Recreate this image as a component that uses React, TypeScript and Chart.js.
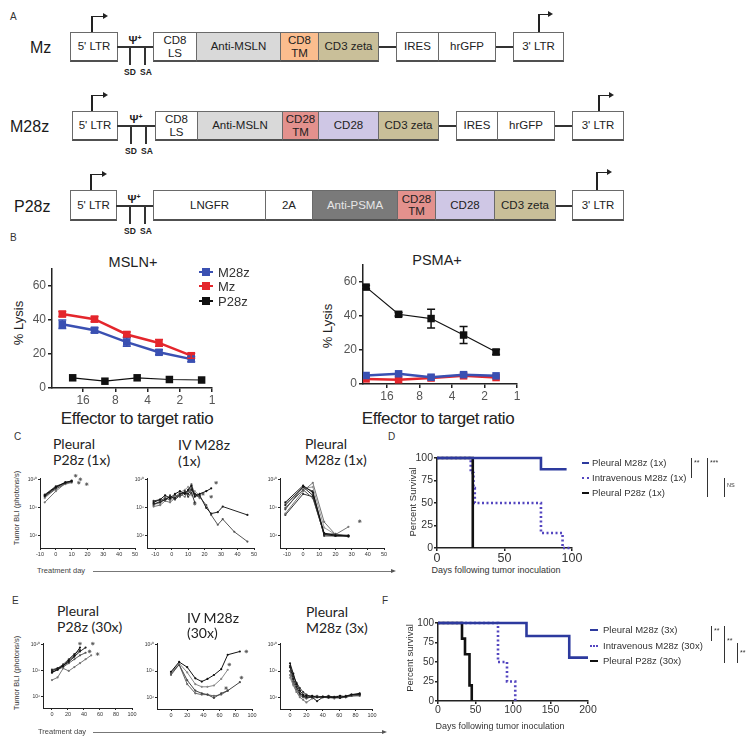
import React, { useEffect, useRef } from "react";
import { Chart, registerables } from "chart.js";
Chart.register(...registerables);

const SANS = '"Liberation Sans", Arial, Helvetica, sans-serif';
const CAL = 'Lato, "Open Sans", sans-serif';
const BLUE = "#3a50b2";
const RED = "#e4262c";
const SBLUE = "#2d3a9e";
const SDOT = "#5446c0";

// ---------------- Panel B data ----------------
const ratioTicks = [16, 8, 4, 2, 1];
const ratiosCAR = [25, 12.5, 6.25, 3.125, 1.5625];
const ratiosP28zMSLN = [20, 10, 5, 2.5, 1.25];
const lysisTicks = [0, 20, 40, 60];
const mslnM28z = [37.5, 34, 27, 21, 17];
const mslnM28zErr = [2.5, 1.5, 2.5, 1.5, 1.5];
const mslnMz = [43.5, 40.5, 31.5, 26.5, 19];
const mslnMzErr = [1.5, 1.5, 1.5, 2, 1.5];
const mslnP28z = [6, 4, 6, 5, 4.7];
const psmaM28z = [5, 6, 4, 5.5, 4.8];
const psmaMz = [3, 2.5, 3.5, 4.8, 3.8];
const psmaP28z = [57, 41, 38.5, 28.8, 18.8];
const psmaP28zErr = [1, 1, 5.5, 5, 1.5];

// ---------------- Panel C data (log10 photons/s) ----------------
const expTicks = [6, 8, 10];
const cDayTicks = [-10, 0, 10, 20, 30, 40, 50];
const c1Days = [-7, 0, 6, 10];
const c1Mouse1 = [8.9, 9.5, 9.8, 9.95];
const c1Mouse2 = [8.85, 9.45, 9.85, 9.9];
const c1Mouse3 = [8.8, 9.35, 9.75, 9.85];
const c1Mouse4 = [8.4, 9.2, 9.75, 9.9];
const c1Mouse5 = [8.95, 9.55, 9.8, null];
const c1Mouse6 = [8.7, 9.4, 9.7, 9.8];
const c1DeathDays = [12.5, 14.5, 15.5, 19.5];
const c1DeathVals = [10.3, 9.8, 10.05, 9.7];

const c2Days = [-11, -7, -4, -1, 2, 5, 8, 10, 12, 14, 17, 21, 24, 28, 31, 38, 46];
const c2Mouse1 = [8.4, 8.6, 8.9, 8.7, 9.0, 9.2, 9.0, 9.3, 9.6, 8.8, 9.0, 9.2, 9.4, null, null, null, null];
const c2Mouse2 = [8.3, 8.4, 8.6, 8.8, 8.7, 9.0, 9.1, 9.0, 9.3, 9.0, 8.9, 8.0, 7.6, 7.7, 8.1, null, 7.5];
const c2Mouse3 = [8.2, 8.5, 8.7, 8.6, 8.9, 8.8, 9.1, 9.2, 9.4, 8.9, 8.8, 8.2, 7.5, 6.8, 7.2, 6.3, 5.6];
const c2Mouse4 = [8.1, 8.2, 8.5, 8.4, 8.7, 9.0, 8.8, 9.2, 9.7, 9.0, 8.7, null, null, null, null, null, null];
const c2Mouse5 = [8.5, 8.6, 8.5, 8.9, 8.6, 8.9, 9.2, 8.8, 9.1, 8.4, null, null, null, null, null, null, null];
const c2Mouse6 = [8.3, 8.3, 8.8, 8.5, 8.8, 9.1, 9.3, 9.5, 8.9, 9.2, 8.9, null, null, null, null, null, null];
const c2DeathDays = [14, 19, 24, 27];
const c2DeathVals = [8.3, 9.0, 8.8, 9.8];

const c3Days = [-11, 0, 6, 13, 20, 28];
const c3Mouse1 = [8.4, 9.6, 9.1, 6.2, 6.05, 6.0];
const c3Mouse2 = [8.2, 9.5, 8.9, 6.1, 6.0, 6.0];
const c3Mouse3 = [8.0, 9.3, 8.7, 6.15, 6.1, 6.05];
const c3Mouse4 = [7.6, 9.2, 9.8, 7.0, 6.1, 6.65];
const c3Mouse5 = [7.5, 9.0, 8.8, 6.1, 6.15, 5.95];
const c3Mouse6 = [8.3, 9.4, 9.5, 6.6, 6.1, null];
const c3Mouse7 = [7.9, 9.5, 9.2, 6.0, 6.0, 6.0];
const c3DeathDays = [35];
const c3DeathVals = [7.05];

// ---------------- Panel E data (log10 photons/s) ----------------
const eDayTicks = [0, 20, 40, 60, 80, 100];
const e1Days = [0, 7, 14, 21, 28, 35, 42, 49];
const e1Mouse1 = [7.9, 8.1, 8.4, 8.8, 9.2, 9.8, null, null];
const e1Mouse2 = [8.0, 8.2, 8.4, 8.7, 9.1, 9.5, 9.8, null];
const e1Mouse3 = [7.85, 8.1, 8.3, 8.6, 8.9, 9.2, 9.4, null];
const e1Mouse4 = [7.3, 7.5, 8.2, 8.0, 8.3, 8.6, 8.9, 9.2];
const e1Mouse5 = [8.1, 8.2, 8.5, 8.9, 9.3, 9.6, null, null];
const e1DeathDays = [35, 51, 47, 57];
const e1DeathVals = [10.1, 10.1, 9.5, 9.3];

const e2Days = [0, 10, 20, 30, 38, 45, 53, 62, 70, 85];
const e2Mouse1 = [7.95, 8.7, 8.3, 7.45, 7.2, 7.4, 7.7, 8.15, 9.25, 9.5];
const e2Mouse2 = [7.9, 8.6, 7.9, 7.0, 6.8, 6.8, 6.9, 7.4, 8.1, null];
const e2Mouse3 = [7.8, 8.5, 7.3, 6.5, 6.3, 6.2, 5.95, 6.3, 6.5, 7.15];
const e2Mouse4 = [7.7, 8.5, 7.0, 6.3, 6.2, 6.2, 6.1, 6.2, 6.5, null];
const e2DeathDays = [93, 72, 87, 68];
const e2DeathVals = [9.5, 8.5, 7.5, 6.7];

const e3Days = [0, 4, 8, 12, 16, 20, 27, 33, 40, 47, 54, 61, 68, 75, 85];
const e3Mouse1 = [8.6, 7.8, 7.0, 6.5, 6.2, 6.1, 6.1, 6.0, 6.05, 6.0, 6.0, 6.1, 6.05, 6.2, 6.3];
const e3Mouse2 = [8.3, 7.4, 6.8, 6.3, 6.1, 6.0, 6.0, 5.7, 6.0, 6.05, 6.0, 5.95, 6.1, 6.2, 6.2];
const e3Mouse3 = [8.0, 7.2, 6.6, 6.2, 6.0, 5.9, 6.05, 6.1, 6.0, 5.95, 6.0, 6.0, 6.0, 6.1, 6.15];
const e3Mouse4 = [7.7, 7.0, 6.4, 6.0, 5.8, 5.6, 5.9, 6.0, 6.05, 6.0, 5.9, 6.0, 6.05, 6.1, 6.1];
const e3Mouse5 = [8.4, 7.6, 7.1, 6.7, 6.4, 6.2, 6.0, 6.0, 6.0, 6.1, 6.0, 5.95, 6.0, 6.15, 6.2];
const e3Mouse6 = [7.5, 6.9, 6.4, 6.1, 6.0, 6.0, 6.1, 6.0, 6.0, 6.0, 6.05, 6.1, 6.0, 6.15, 6.25];

// ---------------- Panel D / F survival data ----------------
const survTicks = [0, 25, 50, 75, 100];
const dDayTicks = [0, 50, 100];
const dPleuralM28zDays = [0, 77, 96];
const dPleuralM28zSurv = [100, 87.5, 87.5];
const dIvM28zDays = [0, 25, 27, 28, 77, 93, 100];
const dIvM28zSurv = [100, 83.3, 66.7, 50, 16.7, 0, 0];
const dPleuralP28zDays = [0, 26.5];
const dPleuralP28zSurv = [100, 0];

const fDayTicks = [0, 50, 100, 150, 200];
const fPleuralM28zDays = [0, 118, 175, 200];
const fPleuralM28zSurv = [100, 83.3, 55.6, 55.6];
const fIvM28zDays = [0, 80, 92, 103];
const fIvM28zSurv = [100, 50, 25, 0];
const fPleuralP28zDays = [0, 32, 36, 42, 45];
const fPleuralP28zSurv = [100, 80, 60, 20, 0];

// ---------------- helpers ----------------
const SUP = "⁰¹²³⁴⁵⁶⁷⁸⁹";
const pow10 = (v: number) => "10" + String(v).split("").map((ch) => SUP[+ch]).join("");
const pts = (xs: number[], ys: (number | null)[]) => xs.map((x, i) => ({ x, y: ys[i] }));

type Box = { l: number; t: number; r: number; b: number };

function axis(o: any) {
  return {
    type: o.type || "linear",
    position: o.horizontal ? "bottom" : "left",
    min: o.min,
    max: o.max,
    reverse: !!o.reverse,
    grid: { display: true, drawOnChartArea: false, drawTicks: true, tickLength: o.tickLen, color: "#222", lineWidth: o.lw || 1 },
    border: { display: true, color: "#222", width: o.lw || 1 },
    ticks: {
      autoSkip: false,
      maxRotation: 0,
      minRotation: 0,
      padding: o.pad,
      font: { family: SANS, size: o.font },
      color: o.color || "#333",
      callback: (v: any) => (o.label ? o.label(Number(v)) : String(v)),
    },
    afterBuildTicks: (s: any) => {
      s.ticks = o.ticks.map((v: number) => ({ value: v }));
    },
    afterFit: (s: any) => {
      if (o.horizontal) s.height = o.fit;
      else s.width = o.fit;
    },
  };
}

const errorBars = {
  id: "errorBars",
  afterDatasetsDraw(chart: any) {
    const ctx = chart.ctx;
    const ys = chart.scales.y;
    chart.data.datasets.forEach((ds: any, i: number) => {
      if (!ds.errors) return;
      const meta = chart.getDatasetMeta(i);
      meta.data.forEach((pt: any, j: number) => {
        const v = ds.data[j].y;
        const e = ds.errors[j];
        if (!e) return;
        const top = ys.getPixelForValue(v + e);
        const bot = ys.getPixelForValue(v - e);
        ctx.save();
        ctx.strokeStyle = ds.borderColor;
        ctx.lineWidth = 1.5;
        ctx.beginPath();
        ctx.moveTo(pt.x, top);
        ctx.lineTo(pt.x, bot);
        ctx.moveTo(pt.x - 4, top);
        ctx.lineTo(pt.x + 4, top);
        ctx.moveTo(pt.x - 4, bot);
        ctx.lineTo(pt.x + 4, bot);
        ctx.stroke();
        ctx.restore();
      });
    });
  },
};

function makeConfig(datasets: any[], x: any, y: any, pad: Box, plugins: any[] = []) {
  return {
    type: "line",
    data: { datasets },
    options: {
      responsive: false,
      animation: false,
      events: [],
      layout: { padding: { left: 0, top: pad.t, right: pad.r, bottom: 0 } },
      plugins: { legend: { display: false }, tooltip: { enabled: false }, title: { display: false } },
      scales: { x, y },
    },
    plugins,
  };
}

function ChartBox({ area, pad, build }: { area: Box; pad: Box; build: (pad: Box) => any }) {
  const ref = useRef<HTMLCanvasElement>(null);
  const w = area.r - area.l + pad.l + pad.r;
  const h = area.b - area.t + pad.t + pad.b;
  useEffect(() => {
    const chart = new Chart(ref.current as HTMLCanvasElement, build(pad));
    return () => chart.destroy();
  }, []);
  return (
    <div style={{ position: "absolute", left: area.l - pad.l, top: area.t - pad.t, width: w, height: h }}>
      <canvas ref={ref} width={w} height={h} style={{ width: w, height: h, display: "block" }} />
    </div>
  );
}

// ----- Panel B chart builders -----
function lysisBuilder(series: any[], xmax: number) {
  return (pad: Box) =>
    makeConfig(
      series,
      axis({ horizontal: true, type: "logarithmic", min: 1, max: xmax, reverse: true, ticks: ratioTicks, fit: pad.b, tickLen: 4, pad: 1, font: 12, lw: 1.5, color: "#555" }),
      axis({ min: 0, max: 70, ticks: lysisTicks, fit: pad.l, tickLen: 4, pad: 2, font: 12, lw: 1.5, color: "#555" }),
      pad,
      [errorBars]
    );
}
const sq = (label: string, xs: number[], ys: number[], color: string, lw: number, errors?: number[]) => ({
  label,
  data: pts(xs, ys),
  borderColor: color,
  backgroundColor: color,
  borderWidth: lw,
  pointStyle: "rect",
  pointRadius: 5.3,
  pointBorderWidth: 0,
  pointBackgroundColor: color,
  errors,
});

// ----- BLI builders -----
function bliBuilder(days: number[], mice: (number | null)[][], colors: string[], dDays: number[], dVals: number[], xmin: number, xmax: number, xTicks: number[], ymin: number, ymax: number) {
  return (pad: Box) => {
    const ds: any[] = mice.map((vals, i) => ({
      data: pts(days, vals),
      borderColor: colors[i % colors.length],
      backgroundColor: colors[i % colors.length],
      borderWidth: 1,
      pointRadius: 1.1,
      pointBorderWidth: 0,
      spanGaps: true,
      clip: false,
    }));
    ds.push({
      data: pts(dDays, dVals),
      showLine: false,
      pointStyle: "star",
      pointRadius: 1.8,
      borderColor: "#555",
      borderWidth: 0.8,
      clip: false,
    });
    return makeConfig(
      ds,
      axis({ horizontal: true, min: xmin, max: xmax, ticks: xTicks, fit: pad.b, tickLen: 2, pad: 1, font: 5.5 }),
      axis({ min: ymin, max: ymax, ticks: expTicks, fit: pad.l, tickLen: 2, pad: 1, font: 5, label: pow10 }),
      pad
    );
  };
}

// ----- survival builders -----
function survBuilder(series: any[], xmax: number, xTicks: number[], xFont: number, yFont: number) {
  return (pad: Box) =>
    makeConfig(
      series,
      axis({ horizontal: true, min: 0, max: xmax, ticks: xTicks, fit: pad.b, tickLen: 3, pad: 0, font: xFont, lw: 1.5 }),
      axis({ min: 0, max: 100, ticks: survTicks, fit: pad.l, tickLen: 3, pad: 1, font: yFont, lw: 1.5 }),
      pad
    );
}
const step = (xs: number[], ys: number[], color: string, dash?: number[]) => ({
  data: pts(xs, ys),
  borderColor: color,
  borderWidth: 2.6,
  stepped: "before",
  pointRadius: 0,
  borderDash: dash || [],
  clip: false,
});

// ---------------- HTML helpers ----------------
const Txt = ({ x, y, s, children, f = SANS, c = "#222", w = "normal", anchor = "left", ls = 0, rot = 0 }: any) => {
  const tx = anchor === "center" ? "-50%" : anchor === "right" ? "-100%" : "0";
  return (
    <div
      style={{
        position: "absolute",
        left: x,
        top: y,
        transform: `translate(${tx},-50%)${rot ? ` rotate(${rot}deg)` : ""}`,
        fontFamily: f,
        fontSize: s,
        color: c,
        fontWeight: w,
        whiteSpace: "pre",
        lineHeight: 1,
        letterSpacing: ls,
      }}
    >
      {children}
    </div>
  );
};
const Rect = ({ l, t, w, h, bg = "#222", extra = {} }: any) => (
  <div style={{ position: "absolute", left: l, top: t, width: w, height: h, background: bg, ...extra }} />
);

type Seg = [number, number, string, string, string?];
type RowSpec = {
  label: string; labelX: number; top: number; bot: number;
  ltr5: [number, number]; psiLine: [number, number]; sd: number; sa: number; psiX: number;
  segs: Seg[]; links: [number, number][]; ltr3: [number, number];
  arrow5: [number, number, number]; arrow3: [number, number, number];
};

const WHITE = "#ffffff";
const GRAY = "#d9d9d9";
const ORANGE = "#fbbd8e";
const SALMON = "#e3918d";
const LAV = "#cfc7e5";
const KHAKI = "#c9bf99";
const DARK = "#7a7a7a";

const rows: RowSpec[] = [
  {
    label: "Mz", labelX: 30, top: 32, bot: 62, ltr5: [70, 117], psiLine: [117, 153], sd: 129, sa: 144, psiX: 135,
    segs: [[153, 196, "CD8\nLS", WHITE], [196, 280, "Anti-MSLN", GRAY], [280, 318, "CD8\nTM", ORANGE], [318, 378, "CD3 zeta", KHAKI], [396, 438, "IRES", WHITE], [438, 495, "hrGFP", WHITE]],
    links: [[378, 396], [495, 513]], ltr3: [513, 563], arrow5: [92, 16, 104], arrow3: [539, 14, 549],
  },
  {
    label: "M28z", labelX: 10, top: 111, bot: 141, ltr5: [72, 117], psiLine: [117, 155], sd: 130, sa: 145, psiX: 136,
    segs: [[155, 197, "CD8\nLS", WHITE], [197, 282, "Anti-MSLN", GRAY], [282, 318, "CD28\nTM", SALMON], [318, 378, "CD28", LAV], [378, 438, "CD3 zeta", KHAKI], [456, 497, "IRES", WHITE], [497, 554, "hrGFP", WHITE]],
    links: [[438, 456], [554, 572]], ltr3: [572, 623], arrow5: [92, 95, 104], arrow3: [599, 95, 610],
  },
  {
    label: "P28z", labelX: 14, top: 190, bot: 221, ltr5: [70, 116], psiLine: [116, 153], sd: 129, sa: 144, psiX: 134,
    segs: [[153, 265, "LNGFR", WHITE], [265, 312, "2A", WHITE], [312, 397, "Anti-PSMA", DARK, "#e6e6e6"], [397, 435, "CD28\nTM", SALMON], [435, 494, "CD28", LAV], [494, 555, "CD3 zeta", KHAKI]],
    links: [[555, 572]], ltr3: [572, 623], arrow5: [91, 174, 103], arrow3: [597, 172, 608],
  },
];

function GeneBox({ l, r, top, bot, text, bg, fg }: any) {
  return (
    <div
      style={{
        position: "absolute", left: l, top, width: r - l + 1, height: bot - top, boxSizing: "border-box",
        background: bg, border: "1px solid #6a6a6a", borderBottom: "2px solid #505050",
        display: "flex", alignItems: "center", justifyContent: "center", textAlign: "center",
        fontFamily: SANS, fontSize: 11.5, lineHeight: 1.08, color: fg || "#222", whiteSpace: "pre",
      }}
    >
      {text}
    </div>
  );
}

function Promoter({ x, topY, endX, boxTop }: any) {
  return (
    <>
      <Rect l={x - 1} t={topY} w={1.8} h={boxTop - topY} />
      <Rect l={x - 1} t={topY - 0.5} w={endX - x} h={1.8} />
      <div style={{ position: "absolute", left: endX - 1, top: topY - 3.2, width: 0, height: 0, borderLeft: "5px solid #222", borderTop: "3.6px solid transparent", borderBottom: "3.6px solid transparent" }} />
    </>
  );
}

function Construct({ row }: { row: RowSpec }) {
  const mid = (row.top + row.bot) / 2;
  return (
    <>
      <Txt x={row.labelX} y={mid + 1} s={16} c="#1a1a1a">{row.label}</Txt>
      <Promoter x={row.arrow5[0]} topY={row.arrow5[1]} endX={row.arrow5[2]} boxTop={row.top} />
      <Promoter x={row.arrow3[0]} topY={row.arrow3[1]} endX={row.arrow3[2]} boxTop={row.top} />
      <GeneBox l={row.ltr5[0]} r={row.ltr5[1]} top={row.top} bot={row.bot} text="5' LTR" bg={WHITE} />
      <Rect l={row.psiLine[0]} t={mid - 1} w={row.psiLine[1] - row.psiLine[0]} h={2} bg="#333" />
      <Rect l={row.sd} t={mid} w={1.5} h={row.bot - mid + 3} bg="#333" />
      <Rect l={row.sa} t={mid} w={1.5} h={row.bot - mid + 3} bg="#333" />
      <Txt x={row.psiX} y={mid - 7} s={11} w="bold" anchor="center">
        Ψ<sup style={{ fontSize: 7 }}>+</sup>
      </Txt>
      <Txt x={row.sd + 1} y={row.bot + 10} s={8.5} w="bold" anchor="center">SD</Txt>
      <Txt x={row.sa + 2} y={row.bot + 10} s={8.5} w="bold" anchor="center">SA</Txt>
      {row.links.map(([a, b], i) => (
        <Rect key={i} l={a} t={mid - 1} w={b - a} h={2} bg="#333" />
      ))}
      {row.segs.map(([l, r, t, bg, fg], i) => (
        <GeneBox key={i} l={l} r={r} top={row.top} bot={row.bot} text={t} bg={bg} fg={fg} />
      ))}
      <GeneBox l={row.ltr3[0]} r={row.ltr3[1]} top={row.top} bot={row.bot} text="3' LTR" bg={WHITE} />
    </>
  );
}

function LegendLine({ x, y, w, color, dotted }: any) {
  return dotted ? (
    <div style={{ position: "absolute", left: x, top: y - 1.3, width: w, height: 0, borderTop: `2.6px dotted ${color}` }} />
  ) : (
    <Rect l={x} t={y - 1.3} w={w} h={2.6} bg={color} />
  );
}

function Arrow({ x0, x1, y }: any) {
  return (
    <>
      <Rect l={x0} t={y - 0.5} w={x1 - x0} h={1} bg="#777" />
      <div style={{ position: "absolute", left: x1 - 1, top: y - 2.5, width: 0, height: 0, borderLeft: "5px solid #555", borderTop: "2.5px solid transparent", borderBottom: "2.5px solid transparent" }} />
    </>
  );
}

export default function App() {
  const bliPad = { l: 24, t: 6, r: 8, b: 12 };
  const c1Mice = [c1Mouse1, c1Mouse2, c1Mouse3, c1Mouse4, c1Mouse5, c1Mouse6];
  const c2Mice = [c2Mouse1, c2Mouse2, c2Mouse3, c2Mouse4, c2Mouse5, c2Mouse6];
  const c3Mice = [c3Mouse1, c3Mouse2, c3Mouse3, c3Mouse4, c3Mouse5, c3Mouse6, c3Mouse7];
  const e1Mice = [e1Mouse1, e1Mouse2, e1Mouse3, e1Mouse4, e1Mouse5];
  const e2Mice = [e2Mouse1, e2Mouse2, e2Mouse3, e2Mouse4];
  const e3Mice = [e3Mouse1, e3Mouse2, e3Mouse3, e3Mouse4, e3Mouse5, e3Mouse6];
  const lineCols = ["#111", "#222", "#555", "#777", "#333", "#999", "#444"];

  return (
    <div style={{ position: "absolute", left: 0, top: 0, width: 755, height: 746, background: "#fff", overflow: "hidden", fontFamily: SANS }}>
      {/* Panel letters */}
      <Txt x={10} y={17} s={10} c="#333">A</Txt>
      <Txt x={10} y={238} s={10} c="#333">B</Txt>
      <Txt x={14} y={437} s={10} c="#333">C</Txt>
      <Txt x={388} y={437} s={10} c="#333">D</Txt>
      <Txt x={12} y={601} s={10} c="#333">E</Txt>
      <Txt x={382} y={601} s={10} c="#333">F</Txt>

      {/* Panel A */}
      {rows.map((r) => (
        <Construct key={r.label} row={r} />
      ))}

      {/* Panel B */}
      <Txt x={133} y={262} s={14.5} anchor="center">MSLN+</Txt>
      <Txt x={437} y={260} s={14.5} anchor="center">PSMA+</Txt>
      <Txt x={18} y={323} s={13} anchor="center" rot={-90}>% Lysis</Txt>
      <Txt x={327} y={326} s={13} anchor="center" rot={-90}>% Lysis</Txt>
      <Txt x={137} y={418} s={17} anchor="center" ls={-0.45}>Effector to target ratio</Txt>
      <Txt x={438} y={418} s={17} anchor="center" ls={-0.45}>Effector to target ratio</Txt>
      <ChartBox
        area={{ l: 52, t: 269, r: 212, b: 388 }}
        pad={{ l: 40, t: 10, r: 10, b: 22 }}
        build={lysisBuilder(
          [
            sq("P28z", ratiosP28zMSLN, mslnP28z, "#111", 1.2),
            sq("M28z", ratiosCAR, mslnM28z, BLUE, 2.5, mslnM28zErr),
            sq("Mz", ratiosCAR, mslnMz, RED, 2.5, mslnMzErr),
          ],
          31.2
        )}
      />
      <ChartBox
        area={{ l: 363, t: 265, r: 517, b: 384 }}
        pad={{ l: 40, t: 10, r: 10, b: 22 }}
        build={lysisBuilder(
          [
            sq("P28z", ratiosCAR, psmaP28z, "#111", 1.2, psmaP28zErr),
            sq("M28z", ratiosCAR, psmaM28z, BLUE, 2.5),
            sq("Mz", ratiosCAR, psmaMz, RED, 2.5),
          ],
          26.7
        )}
      />
      {([["M28z", BLUE, 272], ["Mz", RED, 286], ["P28z", "#111", 301]] as [string, string, number][]).map(([t, c, y]) => (
        <React.Fragment key={t}>
          <Rect l={199} t={y - 1.2} w={14} h={2.5} bg={c} />
          <Rect l={202} t={y - 4} w={8} h={8} bg={c} />
          <Txt x={218} y={y} s={13} c="#333">{t}</Txt>
        </React.Fragment>
      ))}

      {/* Panel C */}
      <Txt x={53} y={444} s={14} f={CAL} c="#222">Pleural</Txt>
      <Txt x={53} y={460} s={14} f={CAL} c="#222">P28z (1x)</Txt>
      <Txt x={178} y={445} s={14} f={CAL} c="#222">IV M28z</Txt>
      <Txt x={178} y={461} s={14} f={CAL} c="#222">(1x)</Txt>
      <Txt x={305} y={444} s={14} f={CAL} c="#222">Pleural</Txt>
      <Txt x={305} y={460} s={14} f={CAL} c="#222">M28z (1x)</Txt>
      <Txt x={17} y={508} s={7.5} anchor="center" rot={-90} c="#333">Tumor BLI (photons/s)</Txt>
      <ChartBox area={{ l: 40, t: 478, r: 135, b: 548 }} pad={bliPad}
        build={bliBuilder(c1Days, c1Mice, lineCols, c1DeathDays, c1DeathVals, -10, 50, cDayTicks, 5.14, 10.14)} />
      <ChartBox area={{ l: 147, t: 478, r: 254, b: 548 }} pad={bliPad}
        build={bliBuilder(c2Days, c2Mice, lineCols, c2DeathDays, c2DeathVals, -15, 50, cDayTicks, 5.14, 10.14)} />
      <ChartBox area={{ l: 280, t: 478, r: 384, b: 548 }} pad={bliPad}
        build={bliBuilder(c3Days, c3Mice, lineCols, c3DeathDays, c3DeathVals, -14.3, 50, cDayTicks, 5.14, 10.14)} />
      <Txt x={37} y={571} s={7.5} c="#444">Treatment day</Txt>
      <Arrow x0={93} x1={392} y={571} />

      {/* Panel D */}
      <Txt x={413} y={502} s={9.5} anchor="center" rot={-90} c="#333">Percent Survival</Txt>
      <Txt x={496} y={570} s={9} anchor="center" c="#333">Days following tumor inoculation</Txt>
      <ChartBox
        area={{ l: 437, t: 458, r: 572, b: 548 }}
        pad={{ l: 26, t: 8, r: 12, b: 18 }}
        build={survBuilder(
          [
            step(dPleuralM28zDays, dPleuralM28zSurv, SBLUE),
            step(dPleuralP28zDays, dPleuralP28zSurv, "#111"),
            step(dIvM28zDays, dIvM28zSurv, SDOT, [2, 2.5]),
          ],
          100, dDayTicks, 12.5, 10.5
        )}
      />
      <LegendLine x={582} y={463} w={7} color={SBLUE} />
      <LegendLine x={582} y={478} w={7} color={SDOT} dotted />
      <LegendLine x={582} y={493} w={7} color="#111" />
      <Txt x={592} y={463} s={9.5} c="#333">Pleural M28z (1x)</Txt>
      <Txt x={592} y={478} s={9.5} c="#333">Intravenous M28z (1x)</Txt>
      <Txt x={592} y={493} s={9.5} c="#333">Pleural P28z (1x)</Txt>
      <Rect l={691} t={458} w={1} h={20} bg="#333" />
      <Txt x={694} y={462} s={7} c="#333">**</Txt>
      <Rect l={707} t={458} w={1} h={39} bg="#333" />
      <Txt x={710} y={462} s={7} c="#333">***</Txt>
      <Rect l={724} t={478} w={1} h={19} bg="#333" />
      <Txt x={727} y={486} s={5.5} c="#333">NS</Txt>

      {/* Panel E */}
      <Txt x={57} y={611} s={14} f={CAL} c="#222">Pleural</Txt>
      <Txt x={57} y={627} s={14} f={CAL} c="#222">P28z (30x)</Txt>
      <Txt x={187} y={618} s={14} f={CAL} c="#222">IV M28z</Txt>
      <Txt x={187} y={633} s={14} f={CAL} c="#222">(30x)</Txt>
      <Txt x={306} y={612} s={14} f={CAL} c="#222">Pleural</Txt>
      <Txt x={306} y={628} s={14} f={CAL} c="#222">M28z (3x)</Txt>
      <Txt x={17} y={673} s={7.5} anchor="center" rot={-90} c="#333">Tumor BLI (photons/s)</Txt>
      <ChartBox area={{ l: 43, t: 643, r: 132, b: 708 }} pad={bliPad}
        build={bliBuilder(e1Days, e1Mice, lineCols, e1DeathDays, e1DeathVals, -11.2, 100, eDayTicks, 5.15, 10.15)} />
      <ChartBox area={{ l: 157, t: 643, r: 252, b: 709 }} pad={bliPad}
        build={bliBuilder(e2Days, e2Mice, ["#111", "#888", "#444", "#666"], e2DeathDays, e2DeathVals, -17.3, 100, eDayTicks, 5.1, 10.15)} />
      <ChartBox area={{ l: 280, t: 643, r: 372, b: 709 }} pad={bliPad}
        build={bliBuilder(e3Days, e3Mice, lineCols, [], [], -12.2, 100, eDayTicks, 5.1, 10.15)} />
      <Txt x={38} y={732} s={7.5} c="#444">Treatment day</Txt>
      <Arrow x0={93} x1={383} y={732} />

      {/* Panel F */}
      <Txt x={410} y={658} s={9.5} anchor="center" rot={-90} c="#333">Percent survival</Txt>
      <Txt x={500} y={726} s={9} anchor="center" c="#333">Days following tumor inoculation</Txt>
      <ChartBox
        area={{ l: 438, t: 623, r: 588, b: 701 }}
        pad={{ l: 26, t: 8, r: 12, b: 16 }}
        build={survBuilder(
          [
            step(fPleuralM28zDays, fPleuralM28zSurv, SBLUE),
            step(fPleuralP28zDays, fPleuralP28zSurv, "#111"),
            step(fIvM28zDays, fIvM28zSurv, SDOT, [2, 2.5]),
          ],
          200, fDayTicks, 10.5, 10
        )}
      />
      <LegendLine x={590} y={630} w={8} color={SBLUE} />
      <LegendLine x={590} y={646} w={8} color={SDOT} dotted />
      <LegendLine x={590} y={661} w={8} color="#111" />
      <Txt x={603} y={630} s={9.5} c="#333">Pleural M28z (3x)</Txt>
      <Txt x={603} y={646} s={9.5} c="#333">Intravenous M28z (30x)</Txt>
      <Txt x={603} y={661} s={9.5} c="#333">Pleural P28z (30x)</Txt>
      <Rect l={711} t={626} w={1} h={15} bg="#333" />
      <Txt x={714} y={630} s={7} c="#333">**</Txt>
      <Rect l={724} t={626} w={1} h={37} bg="#333" />
      <Txt x={727} y={640} s={7} c="#333">**</Txt>
      <Rect l={737} t={643} w={1} h={20} bg="#333" />
      <Txt x={740} y={652} s={7} c="#333">**</Txt>
    </div>
  );
}
